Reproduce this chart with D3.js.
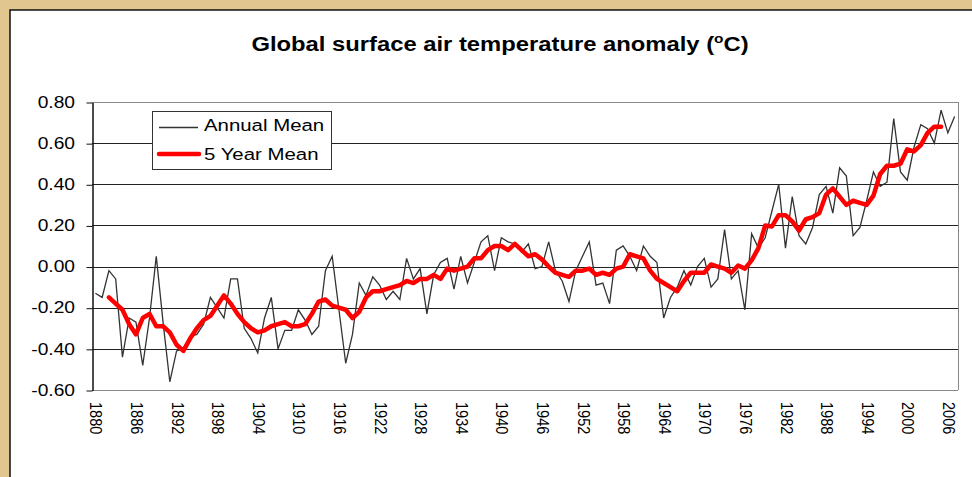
<!DOCTYPE html>
<html>
<head>
<meta charset="utf-8">
<script src="https://d3js.org/d3.v7.min.js"></script>
<style>
  body { margin: 0; background: #e2c68f; }
  svg { display: block; }
  text { font-family: 'Liberation Sans', Arial, sans-serif; fill: #000; }
</style>
</head>
<body>
<div id="chart"></div>
<script>
  // years on the category axis
  var years = d3.range(1880, 2008);

  // annual mean anomaly, 1880..2007
  var annualMean = [
    -0.13, -0.15, -0.02, -0.06, -0.44, -0.25, -0.27, -0.48, -0.25, 0.05,
    -0.27, -0.56, -0.41, -0.40, -0.34, -0.33, -0.28, -0.15, -0.20, -0.25,
    -0.06, -0.06, -0.30, -0.35, -0.42, -0.25, -0.15, -0.40, -0.31, -0.31,
    -0.21, -0.26, -0.33, -0.29, -0.02, 0.05, -0.21, -0.47, -0.33, -0.08,
    -0.14, -0.05, -0.09, -0.16, -0.12, -0.16, 0.04, -0.06, -0.01, -0.23,
    -0.04, 0.02, 0.04, -0.11, 0.05, -0.08, 0.02, 0.12, 0.15, -0.02,
    0.14, 0.12, 0.11, 0.07, 0.11, -0.01, 0.00, 0.12, -0.02, -0.07,
    -0.17, -0.02, 0.05, 0.12, -0.09, -0.08, -0.18, 0.08, 0.10, 0.05,
    -0.02, 0.10, 0.05, 0.02, -0.25, -0.15, -0.10, -0.02, -0.09, 0.00,
    0.04, -0.10, -0.06, 0.18, -0.06, -0.02, -0.21, 0.16, 0.09, 0.14,
    0.27, 0.40, 0.09, 0.34, 0.15, 0.11, 0.19, 0.35, 0.39, 0.26,
    0.48, 0.44, 0.15, 0.19, 0.32, 0.46, 0.39, 0.41, 0.72, 0.46,
    0.42, 0.58, 0.69, 0.67, 0.60, 0.76, 0.65, 0.73
  ];

  // 5 year running mean, 1882..2005
  var fiveYearStart = 1882;
  var fiveYearMean = [
    -0.15, -0.18, -0.21, -0.28, -0.33, -0.25, -0.23, -0.29, -0.29, -0.32,
    -0.38, -0.41, -0.35, -0.30, -0.26, -0.24, -0.19, -0.14, -0.18, -0.23,
    -0.27, -0.30, -0.32, -0.31, -0.29, -0.28, -0.27, -0.29, -0.29, -0.28,
    -0.23, -0.17, -0.16, -0.19, -0.20, -0.21, -0.25, -0.22, -0.15, -0.12,
    -0.12, -0.11, -0.10, -0.09, -0.07, -0.08, -0.06, -0.06, -0.04, -0.06,
    -0.01, -0.02, -0.01, 0.00, 0.04, 0.04, 0.08, 0.10, 0.10, 0.08,
    0.11, 0.08, 0.05, 0.06, 0.035, 0.00, -0.03, -0.04, -0.05, -0.02,
    -0.02, -0.01, -0.04, -0.03, -0.04, -0.01, 0.00, 0.06, 0.05, 0.04,
    -0.02, -0.06, -0.08, -0.10, -0.12, -0.07, -0.03, -0.03, -0.03, 0.01,
    0.00, -0.01, -0.03, 0.005, -0.01, 0.03, 0.09, 0.20, 0.195, 0.25,
    0.25, 0.22, 0.175, 0.23, 0.24, 0.26, 0.35, 0.38, 0.34, 0.30,
    0.32, 0.31, 0.30, 0.345, 0.45, 0.49, 0.49, 0.50, 0.57, 0.56,
    0.59, 0.65, 0.68, 0.68
  ];

  var yTicks = [0.8, 0.6, 0.4, 0.2, 0.0, -0.2, -0.4, -0.6];
  var xTickYears = d3.range(1880, 2007, 6);

  var titleText = "Global surface air temperature anomaly (";
  var legendLabels = ["Annual Mean", "5 Year Mean"];

  var W = 972, H = 477;
  var plot = {left: 92, right: 958, top: 102, bottom: 390};
  var stretch = 1.2; // text in the picture is a bit wide

  var svg = d3.select("#chart")
    .append("svg")
    .attr("width", W)
    .attr("height", H);

  // parchment + white panel
  svg.append("rect").attr("width", W).attr("height", H).attr("fill", "#e2c68f");
  svg.append("rect")
    .attr("x", 10).attr("y", 10)
    .attr("width", W).attr("height", H)
    .attr("fill", "#fff")
    .attr("stroke", "#111")
    .attr("stroke-width", 1.5);

  var x = d3.scaleBand()
    .domain(years)
    .range([plot.left, plot.right]);
  var cx = function (yr) { return x(yr) + x.bandwidth() / 2; };

  var y = d3.scaleLinear()
    .domain([-0.6, 0.8])
    .range([plot.bottom, plot.top]);

  // gridlines
  svg.append("g")
    .selectAll("line")
    .data(yTicks)
    .join("line")
    .attr("x1", plot.left).attr("x2", plot.right)
    .attr("y1", d => Math.round(y(d)) + 0.5)
    .attr("y2", d => Math.round(y(d)) + 0.5)
    .attr("stroke", d => (d === 0.8 || d === -0.6) ? "#888" : "#222")
    .attr("stroke-width", 1);

  // right border of the plot area
  svg.append("line")
    .attr("x1", plot.right + 0.5).attr("x2", plot.right + 0.5)
    .attr("y1", plot.top).attr("y2", plot.bottom)
    .attr("stroke", "#888");

  // y axis
  var yAxis = svg.append("g")
    .attr("transform", "translate(" + (plot.left + 0.5) + ",0.5)")
    .call(d3.axisLeft(y).tickValues(yTicks).tickSize(6).tickSizeOuter(0).tickFormat(""));
  yAxis.select(".domain").attr("stroke", "#111").attr("stroke-width", 1.5);
  yAxis.selectAll(".tick line").attr("stroke", "#111");

  svg.append("g")
    .selectAll("text")
    .data(yTicks)
    .join("text")
    .attr("transform", d => "translate(75," + y(d) + ") scale(" + stretch + ",1)")
    .attr("dy", "0.36em")
    .attr("text-anchor", "end")
    .style("font-size", "16px")
    .text(d => d3.format(".2f")(d).replace("−", "-"));

  // x labels, rotated
  svg.append("g")
    .selectAll("text")
    .data(xTickYears)
    .join("text")
    .attr("transform", d => "translate(" + (cx(d) + 1) + ",402) rotate(90) scale(1,1.13)")
    .attr("dy", "0.36em")
    .style("font-size", "14.5px")
    .text(d => d);

  // annual line
  var line = d3.line()
    .x(d => cx(d.year))
    .y(d => y(d.value));

  var annualData = years.map((yr, i) => ({year: yr, value: annualMean[i]}));
  var fiveData = fiveYearMean.map((v, i) => ({year: fiveYearStart + i, value: v}));

  svg.append("path")
    .datum(annualData)
    .attr("d", line)
    .attr("fill", "none")
    .attr("stroke", "#333")
    .attr("stroke-width", 1.3);

  svg.append("path")
    .datum(fiveData)
    .attr("d", line)
    .attr("fill", "none")
    .attr("stroke", "#ff0000")
    .attr("stroke-width", 4.5)
    .attr("stroke-linejoin", "round")
    .attr("stroke-linecap", "round");

  // title
  var title = svg.append("text")
    .attr("transform", "translate(500,51) scale(1.19,1)")
    .attr("text-anchor", "middle")
    .style("font-size", "20px")
    .style("font-weight", "bold");
  title.append("tspan").text(titleText);
  title.append("tspan").attr("dy", -8).style("font-size", "13px").text("o");
  title.append("tspan").attr("dy", 8).text("C)");

  // legend
  var legend = svg.append("g").attr("transform", "translate(152,111)");
  legend.append("rect")
    .attr("x", 0.5).attr("y", 0.5)
    .attr("width", 179).attr("height", 58)
    .attr("fill", "#fff")
    .attr("stroke", "#333");
  legend.append("line")
    .attr("x1", 7).attr("x2", 46).attr("y1", 16.5).attr("y2", 16.5)
    .attr("stroke", "#333").attr("stroke-width", 1.3);
  legend.append("line")
    .attr("x1", 7).attr("x2", 47).attr("y1", 43).attr("y2", 43)
    .attr("stroke", "#ff0000").attr("stroke-width", 4.5)
    .attr("stroke-linecap", "round");
  legend.selectAll("text.lbl")
    .data(legendLabels)
    .join("text")
    .attr("class", "lbl")
    .attr("transform", (d, i) => "translate(52," + (20 + i * 29) + ") scale(" + stretch + ",1)")
    .style("font-size", "17px")
    .text(d => d);
</script>
</body>
</html>
